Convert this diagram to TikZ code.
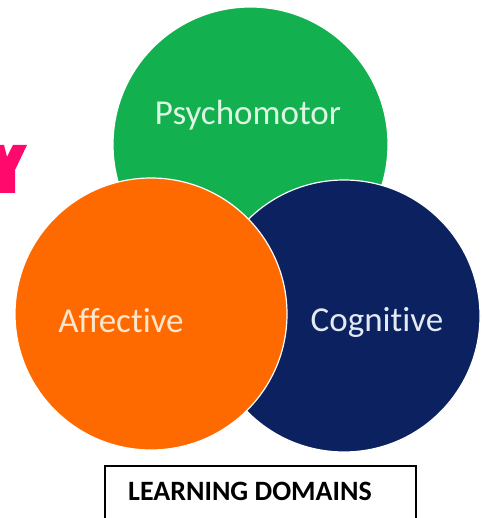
\documentclass[tikz,border=0pt]{standalone}
\usepackage{fontspec}
\setmainfont{Carlito}[Ligatures={NoCommon}]
\definecolor{dgreen}{HTML}{12B04E}
\definecolor{dorange}{HTML}{FF6A00}
\definecolor{dnavy}{HTML}{0B2160}
\definecolor{dpink}{HTML}{FF0A6C}
\definecolor{tgreen}{HTML}{DDF6E2}
\definecolor{torange}{HTML}{FDE6CC}
\definecolor{tnavy}{HTML}{E4E9F3}
\tikzset{
  domcircle/.style={circle, draw=white, line width=1.2pt, inner sep=0pt, minimum size=272pt},
  lbl/.style={anchor=base, font=\fontsize{35}{40}\selectfont, inner sep=0pt},
  titlebox/.style={draw=black, line width=1.8pt, anchor=north west, minimum width=311pt, minimum height=80pt, inner sep=0pt},
  titletext/.style={anchor=base, font=\fontsize{28}{32}\selectfont\bfseries, inner sep=0pt}
}
\begin{document}
\begin{tikzpicture}[x=1pt,y=-1pt]
\useasboundingbox (0,0) rectangle (481,518);
\clip (0,0) rectangle (481,518);
\fill[white] (0,0) rectangle (481,518);
% partial pink letter
\fill[dpink] (0,145) -- (4,145) -- (7,157) -- (13,145) -- (27,145) -- (15,170) -- (15,193) -- (0,193) -- cycle;
% circles
\node[domcircle, fill=dgreen, minimum size=275pt] (psy) at (250.5,144.5) {};
\node[domcircle, fill=dnavy] (cog) at (344,316) {};
\node[domcircle, fill=dorange] (aff) at (151,314) {};
% labels
\node[lbl, text=tgreen] (psyl) at (248,125) {Psychomotor};
\node[lbl, text=torange] (affl) at (121,332) {Affective};
\node[lbl, text=tnavy] (cogl) at (377,331) {Cognitive};
% title box
\node[titlebox] (box) at (104,465) {};
\node[titletext] (title) at (250,500) {LEARNING DOMAINS};
\end{tikzpicture}
\end{document}
